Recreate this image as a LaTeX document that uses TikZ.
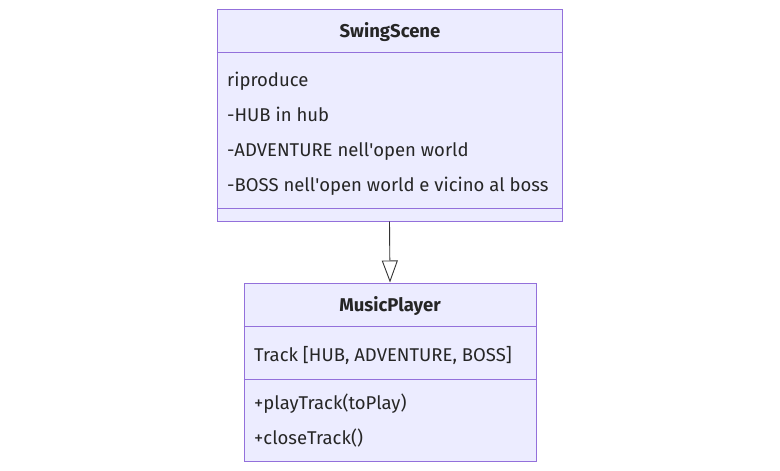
\documentclass[tikz,border=0pt]{standalone}
\usepackage{fontspec}
\setmainfont{Fira Sans}
\usetikzlibrary{arrows.meta, positioning}
\definecolor{clsfill}{HTML}{ECECFF}
\definecolor{clsdraw}{HTML}{9370DB}
\definecolor{ink}{HTML}{333333}

\begin{document}
\begin{tikzpicture}[
  x=1pt, y=-1pt,
  every node/.style={font=\fontsize{18.5}{22}\selectfont, text=black!85, inner sep=0pt},
  cls/.style={draw=clsdraw, fill=clsfill, line width=1pt, rectangle},
  sep/.style={draw=clsdraw, line width=1pt},
  title/.style={anchor=base, font=\fontsize{18.5}{22}\selectfont\bfseries},
  member/.style={anchor=base west},
  inherit/.style={draw=ink, line width=0.9pt,
                  -{Triangle[open, length=22pt, width=16pt, fill=white]}}
]
\useasboundingbox (0,0) rectangle (780,471);

%% ---- SWINGSCENE (top) -----------------------------------------
\node[cls, minimum width=345pt, minimum height=212pt] (swing) at (389.5,115) {};
\draw[sep] ([yshift=-44pt]swing.north west) -- ([yshift=-44pt]swing.north east);
\draw[sep] ([yshift=13pt]swing.south west) -- ([yshift=13pt]swing.south east);

\node[title]  (swingname) at (390,37) {SwingScene};
\node[member] (ripr)  at (227,86)  {riproduce};
\node[member] (hub)   at (227,121) {-HUB in hub};
\node[member] (adv)   at (227,156) {-ADVENTURE nell\textquotesingle open world};
\node[member] (boss)  at (227,191) {-BOSS nell\textquotesingle open world e vicino al boss};

%% ---- MUSICPLAYER (bottom) -------------------------------------
\node[cls, minimum width=292pt, minimum height=178pt] (music) at (390,372) {};
\draw[sep] ([yshift=-44pt]music.north west) -- ([yshift=-44pt]music.north east);
\draw[sep] ([yshift=-97pt]music.north west) -- ([yshift=-97pt]music.north east);

\node[title]  (musicname) at (390,311) {MusicPlayer};
\node[member] (track) at (254,361) {Track [HUB, ADVENTURE, BOSS]};
\node[member] (play)  at (254,409) {+playTrack(toPlay)};
\node[member] (close) at (254,444) {+closeTrack()};

%% swing -> music (inheritance)
\draw[inherit] (swing.south) -- (music.north);

\end{tikzpicture}
\end{document}
